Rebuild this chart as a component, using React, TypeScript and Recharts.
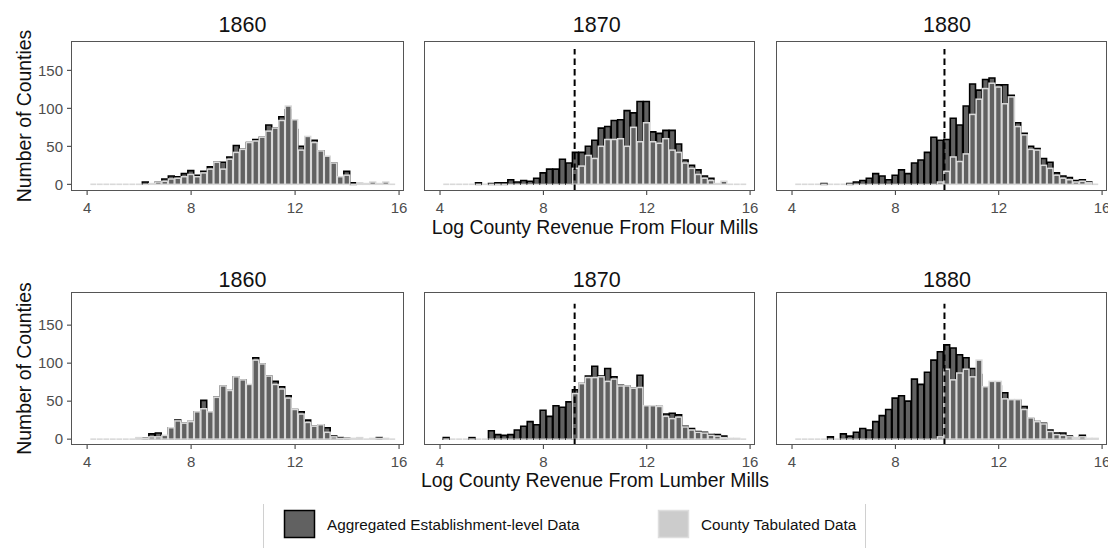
import React from "react";
import { Bar, BarChart, ReferenceLine, XAxis, YAxis } from "recharts";

// bin centres of the histograms (width 0.25)
const BIN_CENTERS = [
  4.25, 4.5, 4.75, 5, 5.25, 5.5, 5.75, 6, 6.25, 6.5, 6.75, 7, 7.25, 7.5, 7.75, 8,
  8.25, 8.5, 8.75, 9, 9.25, 9.5, 9.75, 10, 10.25, 10.5, 10.75, 11, 11.25, 11.5, 11.75, 12,
  12.25, 12.5, 12.75, 13, 13.25, 13.5, 13.75, 14, 14.25, 14.5, 14.75, 15, 15.25, 15.5, 15.75,
];

const YEARS = ["1860", "1870", "1880"];
const X_TICKS = [4, 8, 12, 16];
const Y_TICKS = [0, 50, 100, 150];
const CUTOFFS = [null, 9.21, 9.9];
const X_TITLES = ["Log County Revenue From Flour Mills", "Log County Revenue From Lumber Mills"];
const LEGEND_LABELS = ["Aggregated Establishment-level Data", "County Tabulated Data"];

const FLOUR_1860_AGG = [
  0, 0, 0, 0, 0, 0, 0, 0, 3, 0, 3, 7, 11, 10, 14, 18, 12, 17, 23, 29, 29, 36, 51, 46,
  55, 59, 62, 78, 74, 89, 98, 72, 50, 53, 58, 44, 27, 28, 10, 17, 2, 0, 0, 0, 0, 0, 0,
];
const FLOUR_1860_CTY = [
  0, 0, 0, 0, 0, 0, 0, 0, 0, 1, 3, 4, 7, 8, 10, 13, 10, 15, 20, 29, 20, 33, 42, 46,
  55, 57, 62, 70, 74, 84, 103, 85, 45, 63, 55, 44, 37, 28, 10, 12, 0, 2, 1, 3, 1, 3, 0,
];
const FLOUR_1870_AGG = [
  0, 0, 0, 0, 0, 2, 0, 1, 2, 2, 6, 3, 5, 4, 8, 15, 20, 20, 33, 28, 42, 42, 50, 58,
  74, 76, 84, 85, 97, 94, 109, 109, 69, 67, 71, 71, 53, 32, 25, 19, 11, 8, 0, 0, 0, 0, 0,
];
const FLOUR_1870_CTY = [
  0, 0, 0, 0, 0, 0, 0, 0, 0, 0, 0, 0, 0, 0, 0, 0, 0, 0, 0, 0, 21, 24, 38, 34,
  50, 59, 59, 60, 50, 75, 56, 81, 56, 54, 60, 45, 42, 28, 21, 13, 8, 5, 1, 4, 0, 0, 0,
];
const FLOUR_1880_AGG = [
  0, 0, 0, 0, 1, 0, 0, 0, 1, 3, 5, 8, 14, 11, 6, 12, 19, 14, 28, 32, 42, 62, 58, 59,
  87, 78, 103, 132, 124, 138, 140, 131, 131, 117, 81, 67, 50, 47, 34, 29, 15, 11, 9, 5, 6, 3, 0,
];
const FLOUR_1880_CTY = [
  0, 0, 0, 0, 0, 0, 0, 0, 0, 0, 0, 0, 0, 0, 0, 0, 0, 0, 0, 0, 0, 0, 3, 17,
  36, 30, 40, 92, 112, 126, 133, 128, 106, 115, 76, 65, 46, 45, 25, 21, 12, 8, 6, 3, 4, 2, 0,
];
const LUMBER_1860_AGG = [
  0, 0, 0, 0, 0, 0, 0, 0, 1, 7, 8, 3, 15, 25, 21, 23, 36, 51, 36, 55, 70, 64, 82, 78,
  71, 107, 99, 83, 76, 69, 57, 39, 36, 25, 17, 19, 15, 4, 2, 1, 0, 0, 0, 0, 2, 0, 0,
];
const LUMBER_1860_CTY = [
  0, 0, 0, 0, 0, 0, 0, 2, 1, 3, 3, 5, 15, 24, 21, 23, 36, 40, 36, 55, 70, 64, 82, 78,
  72, 104, 99, 83, 72, 66, 54, 39, 33, 22, 17, 19, 9, 3, 1, 1, 1, 2, 0, 1, 1, 1, 0,
];
const LUMBER_1870_AGG = [
  2, 0, 0, 0, 2, 0, 0, 11, 6, 5, 6, 12, 17, 23, 19, 38, 30, 44, 42, 49, 65, 73, 83, 96,
  83, 93, 82, 71, 70, 67, 84, 44, 44, 43, 33, 34, 32, 17, 14, 10, 9, 6, 6, 4, 0, 0, 0,
];
const LUMBER_1870_CTY = [
  0, 0, 0, 0, 0, 0, 0, 0, 0, 0, 0, 0, 0, 0, 0, 0, 0, 0, 0, 0, 60, 73, 81, 81,
  82, 76, 79, 70, 70, 67, 68, 44, 44, 43, 30, 27, 29, 16, 12, 9, 8, 5, 4, 2, 1, 1, 0,
];
const LUMBER_1880_AGG = [
  0, 0, 0, 0, 0, 3, 0, 7, 4, 9, 14, 12, 23, 31, 39, 54, 57, 50, 79, 72, 88, 104, 115, 124,
  120, 111, 107, 93, 85, 67, 69, 70, 61, 50, 51, 43, 27, 23, 21, 12, 8, 8, 4, 0, 5, 0, 0,
];
const LUMBER_1880_CTY = [
  0, 0, 0, 0, 0, 0, 0, 0, 0, 0, 0, 0, 0, 0, 0, 0, 0, 0, 0, 0, 0, 0, 3, 92,
  78, 87, 92, 82, 104, 69, 76, 76, 53, 52, 52, 39, 28, 23, 20, 10, 6, 5, 3, 2, 3, 1, 1,
];

const AGG = [
  [FLOUR_1860_AGG, FLOUR_1870_AGG, FLOUR_1880_AGG],
  [LUMBER_1860_AGG, LUMBER_1870_AGG, LUMBER_1880_AGG],
];
const CTY = [
  [FLOUR_1860_CTY, FLOUR_1870_CTY, FLOUR_1880_CTY],
  [LUMBER_1860_CTY, LUMBER_1870_CTY, LUMBER_1880_CTY],
];

// layout
const FONT = '"Liberation Sans", Arial, Helvetica, sans-serif';
const COL_X = [71, 424, 776];
const COL_W = [333, 331, 331];
const ROW_Y = [41, 292];
const ROW_H = [150, 153];
const X_DOMAIN: [number, number] = [3.38, 16.19];
const Y_DOMAINS: [number, number][] = [
  [-8.8, 188.6],
  [-7.7, 193.6],
];
const Y_AXIS_W = 60;
const X_AXIS_H = 30;
const RIGHT_PAD = 12;

const BAR_FILL = "#616161";
const DARK_EDGE = "#000000";
const LIGHT_EDGE = "#d9d9d9";
const TICK_TEXT = "#4d4d4d";

function CountyBar(props: any) {
  const { x, y, width, height } = props;
  if (!height) {
    return <line x1={x} x2={x + width} y1={y} y2={y} stroke={LIGHT_EDGE} strokeWidth={1.6} />;
  }
  return (
    <rect x={x} y={y} width={width} height={height} fill={BAR_FILL} stroke={LIGHT_EDGE} strokeWidth={1.5} />
  );
}

function Panel({ row, col }: { row: number; col: number }) {
  const showY = col === 0;
  const yw = showY ? Y_AXIS_W : 0;
  const agg = AGG[row][col];
  const cty = CTY[row][col];
  const data = BIN_CENTERS.map((x, i) => ({ x, agg: agg[i], county: cty[i] }));
  const binPx = (0.25 * COL_W[col]) / (X_DOMAIN[1] - X_DOMAIN[0]);
  const cutoff = CUTOFFS[col];
  const yDom = Y_DOMAINS[row];

  return (
    <div style={{ position: "absolute", left: COL_X[col] - yw, top: ROW_Y[row] }}>
      <BarChart
        width={COL_W[col] + yw + RIGHT_PAD}
        height={ROW_H[row] + X_AXIS_H}
        data={data}
        margin={{ top: 0, right: RIGHT_PAD, bottom: 0, left: 0 }}
        barCategoryGap={0}
        barGap={0}
      >
        <XAxis
          xAxisId="a"
          dataKey="x"
          type="number"
          domain={X_DOMAIN}
          allowDataOverflow
          ticks={X_TICKS}
          interval={0}
          height={X_AXIS_H}
          axisLine={false}
          tickLine={{ stroke: "#333" }}
          tickSize={4}
          tickMargin={7}
          tick={{ fill: TICK_TEXT, fontSize: 15, fontFamily: FONT }}
        />
        <XAxis xAxisId="c" dataKey="x" type="number" domain={X_DOMAIN} allowDataOverflow hide />
        <YAxis
          domain={yDom}
          allowDataOverflow
          ticks={Y_TICKS}
          interval={0}
          hide={!showY}
          width={yw}
          axisLine={false}
          tickLine={{ stroke: "#333" }}
          tickSize={4}
          tickMargin={4}
          tick={{ fill: TICK_TEXT, fontSize: 15, fontFamily: FONT }}
        />
        <Bar
          xAxisId="a"
          dataKey="agg"
          fill={BAR_FILL}
          stroke={DARK_EDGE}
          strokeWidth={1.6}
          barSize={binPx}
          isAnimationActive={false}
        />
        <Bar
          xAxisId="c"
          dataKey="county"
          fill={BAR_FILL}
          stroke={LIGHT_EDGE}
          barSize={binPx}
          shape={CountyBar}
          isAnimationActive={false}
        />
        {cutoff !== null && (
          <ReferenceLine
            xAxisId="a"
            segment={[
              { x: cutoff, y: yDom[0] },
              { x: cutoff, y: 178 },
            ]}
            stroke="#000"
            strokeWidth={2}
            strokeDasharray="6.5 4"
          />
        )}
      </BarChart>
    </div>
  );
}

const TITLE_X = [242.5, 596.7, 947];
const TITLE_BASE = [31.7, 286.7];
const XTITLE_BASE = [234, 487];
const YTITLE_MID = [116, 368.5];

function Overlay() {
  return (
    <svg
      width={1108}
      height={548}
      style={{ position: "absolute", left: 0, top: 0, pointerEvents: "none" }}
      fontFamily={FONT}
    >
      {ROW_Y.map((ry, r) =>
        COL_X.map((cx, c) => (
          <rect
            key={`box-${r}-${c}`}
            x={cx + 0.5}
            y={ry + 0.5}
            width={COL_W[c] - 1}
            height={ROW_H[r] - 1}
            fill="none"
            stroke="#555"
            strokeWidth={1}
          />
        ))
      )}
      {TITLE_BASE.map((by, r) =>
        YEARS.map((yr, c) => (
          <text key={`t-${r}-${c}`} x={TITLE_X[c]} y={by} textAnchor="middle" fontSize={21.5} fill="#111">
            {yr}
          </text>
        ))
      )}
      {XTITLE_BASE.map((by, r) => (
        <text key={`xt-${r}`} x={595} y={by} textAnchor="middle" fontSize={19.4} fill="#111">
          {X_TITLES[r]}
        </text>
      ))}
      {YTITLE_MID.map((my, r) => (
        <text
          key={`yt-${r}`}
          x={0}
          y={0}
          transform={`translate(30.5 ${my}) rotate(-90)`}
          textAnchor="middle"
          fontSize={19.4}
          fill="#111"
        >
          Number of Counties
        </text>
      ))}
      {/* legend */}
      <line x1={263.5} x2={263.5} y1={504} y2={548} stroke="#d0d0d0" />
      <line x1={865.5} x2={865.5} y1={504} y2={548} stroke="#d0d0d0" />
      <rect x={284.5} y={510.5} width={30} height={27} fill={BAR_FILL} stroke="#000" strokeWidth={1.5} />
      <text x={327} y={530} fontSize={15.3} fill="#111">
        {LEGEND_LABELS[0]}
      </text>
      <rect x={658.5} y={510.5} width={30} height={27} fill="#cccccc" stroke="#dedede" strokeWidth={1.5} />
      <text x={701} y={530} fontSize={15.3} fill="#111">
        {LEGEND_LABELS[1]}
      </text>
    </svg>
  );
}

export default function App() {
  return (
    <div
      style={{
        position: "relative",
        width: 1108,
        height: 548,
        overflow: "hidden",
        background: "#fff",
        fontFamily: FONT,
      }}
    >
      <style>{"body{margin:0;overflow:hidden}"}</style>
      {[0, 1].map((r) => [0, 1, 2].map((c) => <Panel key={`${r}-${c}`} row={r} col={c} />))}
      <Overlay />
    </div>
  );
}
